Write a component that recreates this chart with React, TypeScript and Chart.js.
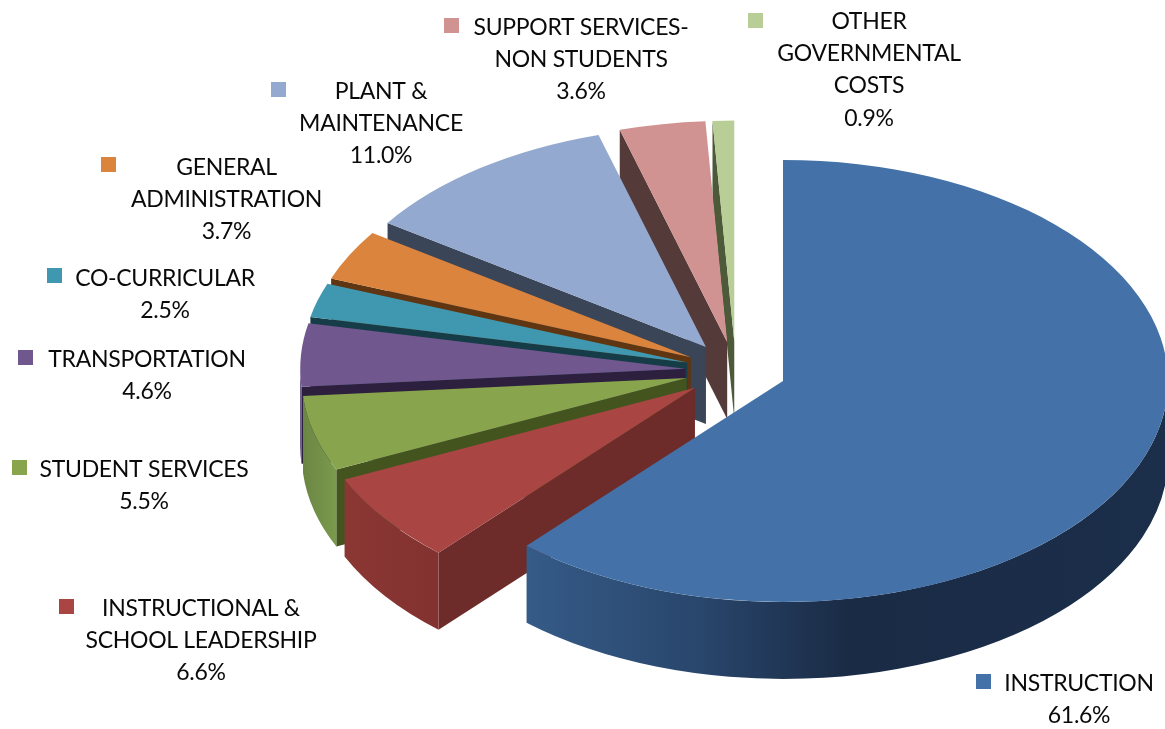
import React, { useEffect, useRef } from "react";
import { Chart, PieController, registerables } from "chart.js";

const categories = [
  "INSTRUCTION",
  "INSTRUCTIONAL & SCHOOL LEADERSHIP",
  "STUDENT SERVICES",
  "TRANSPORTATION",
  "CO-CURRICULAR",
  "GENERAL ADMINISTRATION",
  "PLANT & MAINTENANCE",
  "SUPPORT SERVICES- NON STUDENTS",
  "OTHER GOVERNMENTAL COSTS",
];
const shares = [61.6, 6.6, 5.5, 4.6, 2.5, 3.7, 11.0, 3.6, 0.9];

const labelLines = [
  ["INSTRUCTION"],
  ["INSTRUCTIONAL &", "SCHOOL LEADERSHIP"],
  ["STUDENT SERVICES"],
  ["TRANSPORTATION"],
  ["CO-CURRICULAR"],
  ["GENERAL", "ADMINISTRATION"],
  ["PLANT &", "MAINTENANCE"],
  ["SUPPORT SERVICES-", "NON STUDENTS"],
  ["OTHER", "GOVERNMENTAL", "COSTS"],
];

// Colours: top face, flat radial wall, rim gradient.
const topColors = ["#4472A8", "#A94543", "#88A54D", "#70588F", "#4098B0", "#DB843D", "#93A9CF", "#D19392", "#B9CD96"];
const wallColors = ["#1B2D49", "#6D2B2A", "#43541F", "#2D1F3E", "#163C48", "#5F3611", "#3A4558", "#553A3A", "#4C5A39"];
const rimStops: [number, string][][] = [
  [[0, "#355B87"], [0.27, "#29466C"], [0.5, "#1A2B45"], [1, "#1B2E4A"]],
  [[0, "#8B3734"], [1, "#823230"]],
  [[0, "#6B8643"], [1, "#7B9A4D"]],
  [[0, "#4A3A70"], [1, "#4A3A70"]],
  [[0, "#2A6A7C"], [1, "#2A6A7C"]],
  [[0, "#9A5C2A"], [1, "#9A5C2A"]],
  [[0, "#66768F"], [1, "#66768F"]],
  [[0, "#925F5F"], [1, "#925F5F"]],
  [[0, "#818F69"], [1, "#818F69"]],
];

// Label placement on the canvas: text centre, first line middle, marker corner.
const labelCentreX = [1079, 201, 144, 147, 165, 226.5, 381, 581, 869];
const labelTopY = [682, 607, 468, 358, 277, 166, 90.5, 26, 20.5];
const markerX = [976, 59, 12, 18, 47, 101, 271, 444, 748];
const markerY = [674, 599, 460, 350, 268, 157, 82, 18, 13];
const LINE_HEIGHT = 32.2;
const MARKER_SIZE = 15;
const LABEL_FONT = '23px Lato, "Open Sans", sans-serif';

// Pie geometry: radius, explosion distance, vertical squash and extrusion depth.
const WIDTH = 1165;
const HEIGHT = 729;
const CENTRE_X = 735.7;
const CENTRE_Y = 370.6;
const RADIUS = 385;
const EXPLODE = 50.6;
const SQUASH = 0.574;
const DEPTH = 77;

type Arc = { startAngle: number; endAngle: number; draw: (ctx: CanvasRenderingContext2D) => void };

function sliceApex(arc: Arc) {
  const mid = (arc.startAngle + arc.endAngle) / 2;
  return {
    x: CENTRE_X + Math.cos(mid) * EXPLODE,
    y: CENTRE_Y + Math.sin(mid) * EXPLODE * SQUASH,
  };
}

function lowestPoint(arc: Arc) {
  const apex = sliceApex(arc);
  const ry = RADIUS * SQUASH;
  let low = Math.max(apex.y, apex.y + Math.sin(arc.startAngle) * ry, apex.y + Math.sin(arc.endAngle) * ry);
  if (arc.startAngle <= Math.PI / 2 && arc.endAngle >= Math.PI / 2) low = apex.y + ry;
  return low;
}

function drawRadialWall(ctx: CanvasRenderingContext2D, arc: Arc, angle: number, color: string) {
  const apex = sliceApex(arc);
  const ox = apex.x + Math.cos(angle) * RADIUS;
  const oy = apex.y + Math.sin(angle) * RADIUS * SQUASH;
  ctx.beginPath();
  ctx.moveTo(apex.x, apex.y);
  ctx.lineTo(ox, oy);
  ctx.lineTo(ox, oy + DEPTH);
  ctx.lineTo(apex.x, apex.y + DEPTH);
  ctx.closePath();
  ctx.fillStyle = color;
  ctx.fill();
}

function drawRim(ctx: CanvasRenderingContext2D, arc: Arc, stops: [number, string][]) {
  const from = Math.max(arc.startAngle, 0);
  const to = Math.min(arc.endAngle, Math.PI);
  if (to <= from) return;
  const apex = sliceApex(arc);
  const ry = RADIUS * SQUASH;
  const x0 = apex.x + Math.cos(to) * RADIUS;
  const x1 = apex.x + Math.cos(from) * RADIUS;
  const gradient = ctx.createLinearGradient(x0, 0, x1, 0);
  stops.forEach(([at, color]) => gradient.addColorStop(at, color));
  ctx.beginPath();
  ctx.ellipse(apex.x, apex.y, RADIUS, ry, 0, from, to);
  ctx.ellipse(apex.x, apex.y + DEPTH, RADIUS, ry, 0, to, from, true);
  ctx.closePath();
  ctx.fillStyle = gradient;
  ctx.fill();
}

// A pie seen from above at an angle: sides first, far to near, then the squashed, exploded tops.
class TiltedPieController extends PieController {
  static id = "tiltedPie";
  static defaults = PieController.defaults;
  static overrides = PieController.overrides;

  draw() {
    const ctx: CanvasRenderingContext2D = this.chart.ctx;
    const slices: Arc[] = this.getMeta().data as any;
    const order = slices.map((arc, index) => ({ arc, index }));
    order.sort((a, b) => lowestPoint(a.arc) - lowestPoint(b.arc));
    order.forEach(({ arc, index }) => {
      if (Math.cos(arc.startAngle) < -1e-6) drawRadialWall(ctx, arc, arc.startAngle, wallColors[index]);
      if (Math.cos(arc.endAngle) > 1e-6) drawRadialWall(ctx, arc, arc.endAngle, wallColors[index]);
      drawRim(ctx, arc, rimStops[index]);
    });
    slices.forEach((arc) => {
      const mid = (arc.startAngle + arc.endAngle) / 2;
      ctx.save();
      ctx.translate(CENTRE_X, CENTRE_Y);
      ctx.scale(1, SQUASH);
      ctx.translate(-CENTRE_X, -CENTRE_Y);
      ctx.translate(Math.cos(mid) * EXPLODE, Math.sin(mid) * EXPLODE);
      arc.draw(ctx);
      ctx.restore();
    });
  }
}

Chart.register(...registerables, TiltedPieController);

// Coloured marker and centred text block for each slice.
const sliceLabels = {
  id: "sliceLabels",
  afterDraw(chart: any) {
    const ctx: CanvasRenderingContext2D = chart.ctx;
    ctx.save();
    ctx.font = LABEL_FONT;
    (ctx as any).letterSpacing = "-0.3px";
    ctx.textAlign = "center";
    ctx.textBaseline = "alphabetic";
    categories.forEach((_, i) => {
      ctx.fillStyle = topColors[i];
      ctx.fillRect(markerX[i], markerY[i], MARKER_SIZE, MARKER_SIZE);
      ctx.fillStyle = "#0a0a0a";
      const lines = [...labelLines[i], `${shares[i].toFixed(1)}%`];
      lines.forEach((line, n) => {
        ctx.fillText(line, labelCentreX[i], labelTopY[i] + n * LINE_HEIGHT + 8.5);
      });
    });
    ctx.restore();
  },
};

export default function App() {
  const canvasRef = useRef<HTMLCanvasElement>(null);

  useEffect(() => {
    if (!canvasRef.current) return;
    const chart = new Chart(canvasRef.current, {
      type: "tiltedPie" as any,
      data: {
        labels: categories,
        datasets: [
          {
            data: shares,
            backgroundColor: topColors,
            borderWidth: 0,
            radius: RADIUS,
            clip: false,
          } as any,
        ],
      },
      options: {
        animation: false,
        responsive: false,
        events: [],
        layout: {
          padding: {
            left: 2 * CENTRE_X - WIDTH,
            top: 2 * CENTRE_Y - HEIGHT,
          },
        },
        plugins: {
          legend: { display: false },
          tooltip: { enabled: false },
        },
      },
      plugins: [sliceLabels],
    });
    return () => chart.destroy();
  }, []);

  return (
    <div style={{ position: "fixed", left: 0, top: 0, width: WIDTH, height: HEIGHT, background: "#fff" }}>
      <canvas ref={canvasRef} width={WIDTH} height={HEIGHT} />
    </div>
  );
}
